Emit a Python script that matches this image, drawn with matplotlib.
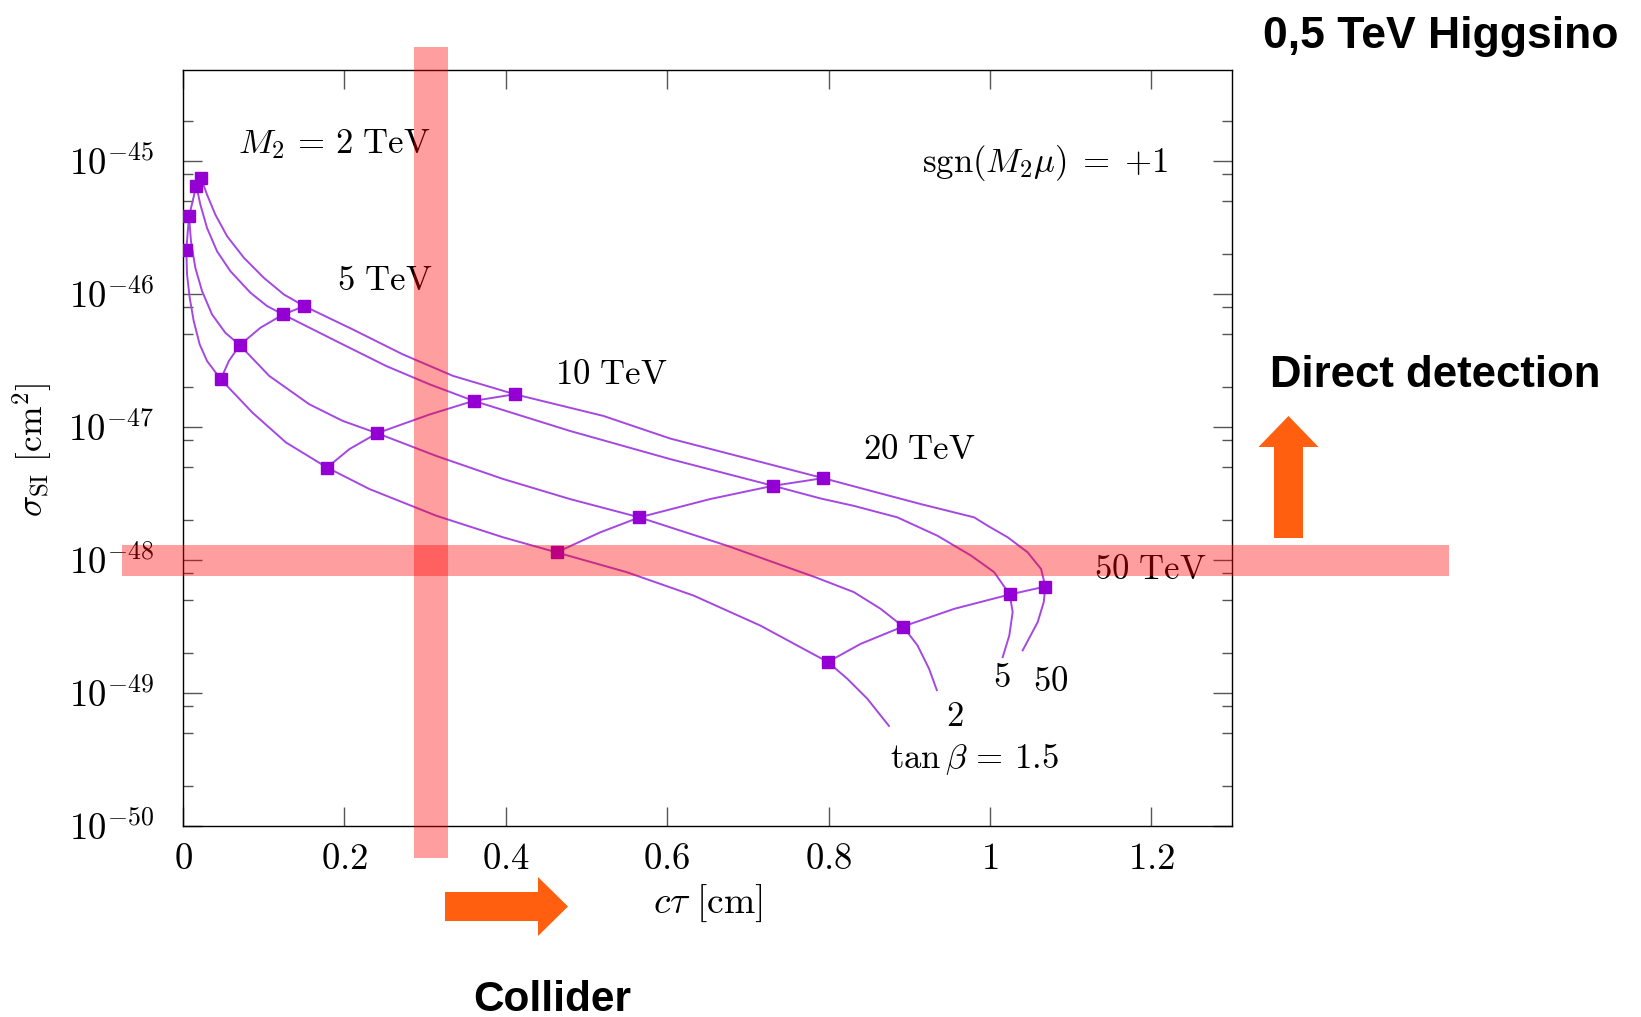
import matplotlib
matplotlib.use('Agg')
import matplotlib.pyplot as plt
from matplotlib.ticker import FixedLocator, FuncFormatter, MultipleLocator, NullFormatter
from matplotlib.patches import Rectangle, Polygon
from matplotlib.transforms import IdentityTransform, blended_transform_factory
import numpy as np

plt.rcParams['mathtext.fontset'] = 'cm'
plt.rcParams['font.family'] = ['DejaVu Serif']

# tan(beta) curves, c*tau [cm] vs sigma_SI [cm^2]
ctau_tb15 = [0.0041, 0.005, 0.0083, 0.0133, 0.0207, 0.0298, 0.0468, 0.0861, 0.1276, 0.1785, 0.2311,
             0.3139, 0.3967, 0.463, 0.550, 0.6327, 0.7155, 0.7991, 0.8232, 0.848, 0.8749]
sigma_tb15 = [2.15e-46, 1.40e-46, 9.35e-47, 6.24e-47, 4.17e-47, 3.13e-47, 2.28e-47, 1.28e-47, 7.64e-48, 4.95e-48, 3.41e-48,
              2.15e-48, 1.48e-48, 1.14e-48, 8.09e-49, 5.40e-49, 3.21e-49, 1.71e-49, 1.28e-49, 9.06e-50, 5.65e-50]
ctau_tb2 = [0.0075, 0.0099, 0.0153, 0.0236, 0.036, 0.0525, 0.0704, 0.1068, 0.1565, 0.1979, 0.2406, 0.3139,
            0.3967, 0.4795, 0.5656, 0.6741, 0.784, 0.8314, 0.8646, 0.8923, 0.9102, 0.9246, 0.9342]
sigma_tb2 = [3.83e-46, 2.48e-46, 1.57e-46, 1.05e-46, 7.00e-47, 5.10e-47, 4.12e-47, 2.42e-47, 1.48e-47, 1.11e-47, 8.97e-48, 6.05e-48,
             4.06e-48, 2.87e-48, 2.09e-48, 1.28e-48, 7.40e-49, 5.73e-49, 4.29e-49, 3.16e-49, 2.28e-49, 1.52e-49, 1.05e-49]
ctau_tb5 = [0.0165, 0.0215, 0.0298, 0.0422, 0.0588, 0.0836, 0.1043, 0.1242, 0.1897, 0.2518, 0.3056, 0.3602, 0.4795,
            0.6037, 0.7313, 0.790, 0.8314, 0.8853, 0.935, 0.9764, 1.0053, 1.0245, 1.0282, 1.024, 1.0158]
sigma_tb5 = [6.50e-46, 4.69e-46, 3.13e-46, 2.09e-46, 1.48e-46, 1.02e-46, 8.09e-47, 7.00e-47, 4.42e-47, 2.87e-47, 2.09e-47, 1.57e-47, 9.33e-48,
             5.73e-48, 3.61e-48, 2.90e-48, 2.55e-48, 2.09e-48, 1.52e-48, 1.08e-48, 8.09e-49, 5.50e-49, 4.06e-49, 2.70e-49, 1.86e-49]
ctau_tb50 = [0.0224, 0.0298, 0.0401, 0.0547, 0.0754, 0.1002, 0.1251, 0.1503, 0.2103, 0.2724, 0.3345, 0.4112, 0.5209,
             0.6037, 0.7934, 0.8522, 0.9143, 0.9805, 0.9971, 1.022, 1.0468, 1.0634, 1.0687, 1.0667, 1.0592, 1.0406]
sigma_tb50 = [7.43e-46, 5.57e-46, 3.94e-46, 2.71e-46, 1.87e-46, 1.32e-46, 9.89e-47, 8.09e-47, 5.41e-47, 3.51e-47, 2.42e-47, 1.76e-47, 1.21e-47,
              8.18e-48, 4.12e-48, 3.31e-48, 2.63e-48, 2.09e-48, 1.81e-48, 1.48e-48, 1.14e-48, 8.55e-49, 6.31e-49, 4.82e-49, 3.41e-49, 2.09e-49]

# M2 = const lines (tan beta = 1.5 -> 50)
ctau_m2_2 = [0.0041, 0.0075, 0.0165, 0.0224]
sigma_m2_2 = [2.15e-46, 3.83e-46, 6.50e-46, 7.43e-46]
ctau_m2_5 = [0.0468, 0.0568, 0.0704, 0.096, 0.1242, 0.1503]
sigma_m2_5 = [2.28e-47, 3.13e-47, 4.12e-47, 5.57e-47, 7.00e-47, 8.09e-47]
ctau_m2_10 = [0.1785, 0.2062, 0.2406, 0.3056, 0.3602, 0.4112]
sigma_m2_10 = [4.95e-48, 6.81e-48, 8.97e-48, 1.24e-47, 1.57e-47, 1.76e-47]
ctau_m2_20 = [0.463, 0.5168, 0.5656, 0.6534, 0.7313, 0.7934]
sigma_m2_20 = [1.14e-48, 1.61e-48, 2.09e-48, 2.87e-48, 3.61e-48, 4.12e-48]
ctau_m2_50 = [0.7991, 0.8398, 0.8923, 0.9557, 1.0245, 1.0687]
sigma_m2_50 = [1.71e-49, 2.34e-49, 3.16e-49, 4.29e-49, 5.50e-49, 6.31e-49]

# marked points (M2 = 2, 5, 10, 20, 50 TeV) for each tan beta
mark_ctau_tb15 = [0.0041, 0.0468, 0.1785, 0.463, 0.7991]
mark_sigma_tb15 = [2.15e-46, 2.28e-47, 4.95e-48, 1.14e-48, 1.71e-49]
mark_ctau_tb2 = [0.0075, 0.0704, 0.2406, 0.5656, 0.8923]
mark_sigma_tb2 = [3.83e-46, 4.12e-47, 8.97e-48, 2.09e-48, 3.16e-49]
mark_ctau_tb5 = [0.0165, 0.1242, 0.3602, 0.7313, 1.0245]
mark_sigma_tb5 = [6.50e-46, 7.00e-47, 1.57e-47, 3.61e-48, 5.50e-49]
mark_ctau_tb50 = [0.0224, 0.1503, 0.4112, 0.7934, 1.0687]
mark_sigma_tb50 = [7.43e-46, 8.09e-47, 1.76e-47, 4.12e-48, 6.31e-49]

# highlighted sensitivity bands
collider_ctau = (0.286, 0.328)
dd_sigma = (7.62e-49, 1.29e-48)

YMIN, YMAX = 1e-50, 4.82e-45
LINE = '#a447e3'
MARK = '#9400d3'
BAND = '#ff0000'
ORANGE = '#ff5f0f'
W, H = 1641, 1017


def logfmt(v, pos):
    return r'$10^{%d}$' % int(round(np.log10(v)))


def xfmt(v, pos):
    return r'$%g$' % round(v, 2)


def arrow_poly(fig, pts):
    # pts are pixel coords measured from the top-left corner
    verts = [(x, H - y) for x, y in pts]
    fig.add_artist(Polygon(verts, closed=True, transform=IdentityTransform(),
                           facecolor=ORANGE, edgecolor='none'))


fig = plt.figure(figsize=(W / 100, H / 100), dpi=100)
ax = fig.add_axes([183 / W, 1 - 826 / H, 1049 / W, 756 / H])
ax.set_yscale('log')

for cx, sy in [(ctau_tb15, sigma_tb15), (ctau_tb2, sigma_tb2), (ctau_tb5, sigma_tb5), (ctau_tb50, sigma_tb50),
               (ctau_m2_2, sigma_m2_2), (ctau_m2_5, sigma_m2_5), (ctau_m2_10, sigma_m2_10),
               (ctau_m2_20, sigma_m2_20), (ctau_m2_50, sigma_m2_50)]:
    ax.plot(cx, sy, color=LINE, lw=1.4, zorder=2, solid_joinstyle='round')
for cx, sy in [(mark_ctau_tb15, mark_sigma_tb15), (mark_ctau_tb2, mark_sigma_tb2),
               (mark_ctau_tb5, mark_sigma_tb5), (mark_ctau_tb50, mark_sigma_tb50)]:
    ax.plot(cx, sy, 's', color=MARK, ms=8.5, mec=MARK, zorder=3)

ax.set_xlim(0, 1.3)
ax.set_ylim(YMIN, YMAX)

# decades only inside the view, minor ticks at 2, 5, 8
decades = 10.0 ** np.arange(-50, -44)
minors = [m * d for d in decades for m in (2, 5, 8) if m * d < YMAX]
ax.xaxis.set_major_locator(MultipleLocator(0.2))
ax.xaxis.set_major_formatter(FuncFormatter(xfmt))
ax.yaxis.set_major_locator(FixedLocator(decades))
ax.yaxis.set_minor_locator(FixedLocator(minors))
ax.yaxis.set_major_formatter(FuncFormatter(logfmt))
ax.yaxis.set_minor_formatter(NullFormatter())
ax.tick_params(which='both', direction='in', top=True, right=True, color='#555555', width=1)
ax.tick_params(which='major', length=13.5, labelsize=26.5)
ax.tick_params(which='minor', length=7)
ax.tick_params(axis='y', pad=21)
ax.tick_params(axis='x', pad=11)
for sp in ax.spines.values():
    sp.set_linewidth(1.0)

ax.set_xlabel(r'$c\tau\ [\mathrm{cm}]$', fontsize=27, va='center')
ax.xaxis.set_label_coords(0.5, -0.103)
ax.set_ylabel(r'$\sigma_{\mathrm{SI}}\ [\mathrm{cm}^2]$', fontsize=25.5, va='center')
ax.yaxis.set_label_coords(-0.1435, 0.497)

# labels on the plot
fs = 25
ax.text(0.068, 10**-44.875, r'$M_2\,=\,2\ \mathrm{TeV}$', fontsize=fs, va='center', ha='left')
ax.text(0.191, 10**-45.896, r'$5\ \mathrm{TeV}$', fontsize=fs, va='center', ha='left')
ax.text(0.4605, 10**-46.602, r'$10\ \mathrm{TeV}$', fontsize=fs, va='center', ha='left')
ax.text(0.8427, 10**-47.167, r'$20\ \mathrm{TeV}$', fontsize=fs, va='center', ha='left')
ax.text(1.1287, 10**-48.071, r'$50\ \mathrm{TeV}$', fontsize=fs, va='center', ha='left')
ax.text(0.9155, 10**-45.016, r'$\mathrm{sgn}(M_2\mu)\;=\;{+}1$', fontsize=fs, va='center', ha='left')
ax.text(1.0143, 10**-48.879, r'$5$', fontsize=fs, va='center', ha='center')
ax.text(1.0754, 10**-48.911, r'$50$', fontsize=fs, va='center', ha='center')
ax.text(0.957, 10**-49.170, r'$2$', fontsize=fs, va='center', ha='center')
ax.text(0.8765, 10**-49.500, r'$\tan\beta\,=\,1.5$', fontsize=fs, va='center', ha='left')

# red bands
tv = blended_transform_factory(ax.transData, ax.transAxes)
ax.add_patch(Rectangle((collider_ctau[0], -0.042), collider_ctau[1] - collider_ctau[0], 1.072,
                       transform=tv, clip_on=False, facecolor=BAND, alpha=0.38, lw=0, zorder=5))
th = blended_transform_factory(ax.transAxes, ax.transData)
ax.add_patch(Rectangle((-0.058, dd_sigma[0]), 1.265, dd_sigma[1] - dd_sigma[0],
                       transform=th, clip_on=False, facecolor=BAND, alpha=0.38, lw=0, zorder=5))

# orange arrows
arrow_poly(fig, [(445, 892), (538, 892), (538, 877), (568, 906.5), (538, 936), (538, 921), (445, 921)])
arrow_poly(fig, [(1274, 538), (1274, 447), (1258.5, 447), (1288.5, 416), (1318.5, 447), (1303, 447), (1303, 538)])

bold = dict(family=['Liberation Sans', 'DejaVu Sans'], weight='bold', color='black')
fig.text(1263 / W, 1 - 48 / H, '0,5 TeV Higgsino', fontsize=32, va='baseline', ha='left', **bold)
fig.text(1270 / W, 1 - 387 / H, 'Direct detection', fontsize=31.5, va='baseline', ha='left', **bold)
fig.text(473 / W, 1 - 1011 / H, 'Collider', fontsize=30.5, va='baseline', ha='left', **bold)

fig.savefig('out.png', dpi=100)
